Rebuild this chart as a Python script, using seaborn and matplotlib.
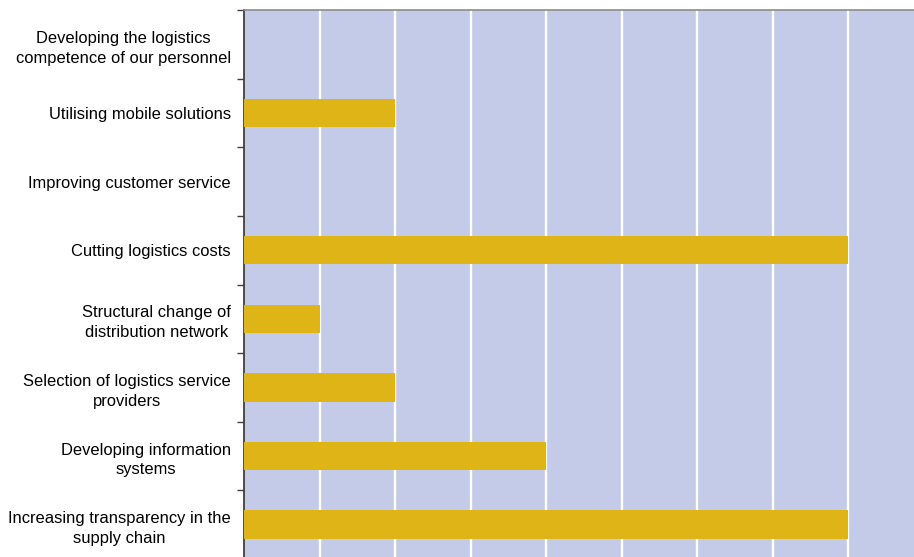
import matplotlib
matplotlib.use("Agg")
import matplotlib.pyplot as plt
import seaborn as sns
import pandas as pd
import numpy as np

categories = [
    "Developing the logistics\ncompetence of our personnel",
    "Utilising mobile solutions",
    "Improving customer service",
    "Cutting logistics costs",
    "Structural change of\ndistribution network",
    "Selection of logistics service\nproviders",
    "Developing information\nsystems",
    "Increasing transparency in the\nsupply chain",
]
values = [0, 2, 0, 8, 1, 2, 4, 8]

df = pd.DataFrame({"category": categories, "value": values})

sns.set_theme(style="white")
plt.rcParams["font.family"] = ["Liberation Sans", "DejaVu Sans"]

W, H = 914, 557
fig = plt.figure(figsize=(W / 100, H / 100), dpi=100)
ax = fig.add_axes([244 / W, -2 / H, 679.5 / W, 549 / H])
ax.set_facecolor("#C3CBE8")

sns.barplot(data=df, y="category", x="value", orient="h", color="#DFB417",
            width=0.415, saturation=1, linewidth=0, ax=ax, zorder=3)

ax.set_xlim(0, 9)
ax.set_ylim(len(categories) - 0.5, -0.5)
ax.set_xticks(np.arange(1, 9))
ax.set_xticklabels([])
ax.tick_params(axis="x", length=0)
ax.xaxis.grid(True, color="white", linewidth=1.7, zorder=1)
ax.set_axisbelow(True)

ax.set_xlabel("")
ax.set_ylabel("")
ax.tick_params(axis="y", which="major", length=0, pad=9.4, labelsize=11.9,
               labelcolor="#000000")
for lbl in ax.get_yticklabels():
    lbl.set_multialignment("center")
    lbl.set_linespacing(1.4)
ax.set_yticks(np.arange(-0.5, len(categories) + 0.5, 1), minor=True)
ax.tick_params(axis="y", which="minor", length=5, width=1, color="#404040",
               direction="out", left=True)

for side in ["right", "bottom"]:
    ax.spines[side].set_visible(False)
ax.spines["left"].set_color("#404040")
ax.spines["left"].set_linewidth(1.3)
ax.spines["top"].set_color("#8C8C8C")
ax.spines["top"].set_linewidth(1.2)

fig.savefig("out.png", dpi=100)
